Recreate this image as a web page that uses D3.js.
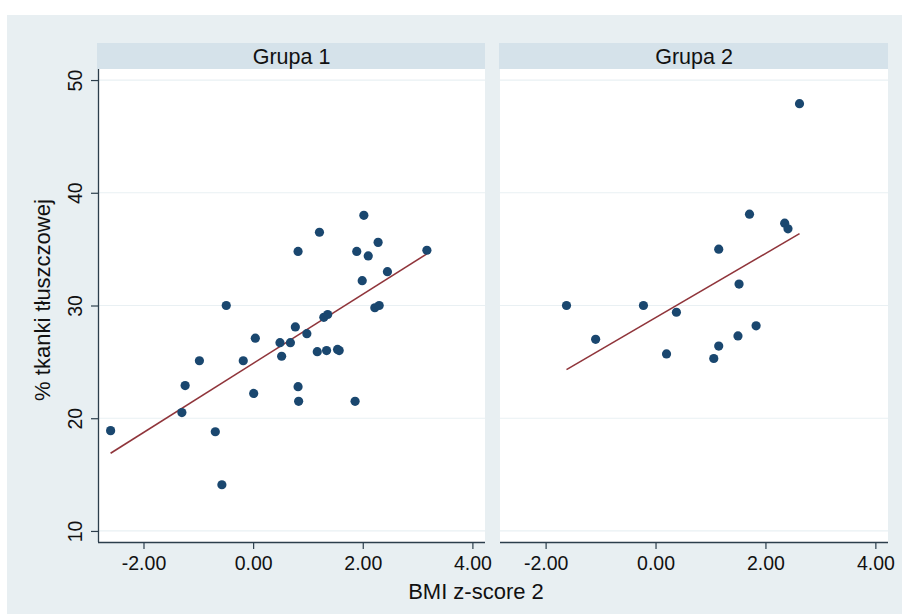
<!DOCTYPE html>
<html>
<head>
<meta charset="utf-8">
<script src="https://cdn.jsdelivr.net/npm/d3@7"></script>
<style>
  html, body { margin: 0; padding: 0; background: #ffffff; }
  svg { display: block; font-family: "Liberation Sans", Arial, sans-serif; }
</style>
</head>
<body>
<svg id="chart" width="902" height="614"></svg>
<script>
// ---- data ----
const panelTitles = ["Grupa 1", "Grupa 2"];
const xTicks = [-2, 0, 2, 4];
const yTicks = [10, 20, 30, 40, 50];
const xLabel = "BMI z-score 2";
const yLabel = "% tkanki tłuszczowej";

const group1X = [-2.60, -1.30, -1.24, -0.98, -0.69, -0.57, -0.49, -0.18, 0.01, 0.04,
                 0.49, 0.52, 0.68, 0.77, 0.82, 0.82, 0.83, 0.98, 1.17, 1.21,
                 1.29, 1.36, 1.34, 1.54, 1.57, 1.86, 1.89, 1.99, 2.02, 2.10,
                 2.22, 2.28, 2.30, 2.45, 3.17];
const group1Y = [18.9, 20.5, 22.9, 25.1, 18.8, 14.1, 30.0, 25.1, 22.2, 27.1,
                 26.7, 25.5, 26.7, 28.1, 34.8, 22.8, 21.5, 27.5, 25.9, 36.5,
                 28.95, 29.2, 26.0, 26.1, 26.0, 21.5, 34.8, 32.2, 38.0, 34.4,
                 29.8, 35.6, 30.0, 33.0, 34.9];

const group2X = [-1.62, -1.09, -0.22, 0.20, 0.38, 1.06, 1.15, 1.15, 1.50, 1.52,
                 1.71, 1.83, 2.35, 2.41, 2.62];
const group2Y = [30.0, 27.0, 30.0, 25.7, 29.4, 25.3, 35.0, 26.4, 27.3, 31.9,
                 38.1, 28.2, 37.3, 36.8, 47.9];

// ---- layout ----
const svg = d3.select("#chart");
const W = 902, H = 614;
const plotTop = 69, plotBottom = 542;
const panels = [
  { title: panelTitles[0], x0: 98, x1: 485, xs: group1X, ys: group1Y },
  { title: panelTitles[1], x0: 500, x1: 888, xs: group2X, ys: group2Y }
];
const xDomain = [-2.83, 4.23];
const y = d3.scaleLinear().domain([9.02, 50.98]).range([plotBottom, plotTop]);

const tickFont = 19.5;
const titleFont = 22;

const colors = {
  bg: "#e8eff2",
  strip: "#d5e2ea",
  grid: "#e9f0f3",
  axis: "#2c3e4c",
  dot: "#1a476f",
  fit: "#90353b",
  text: "#111111"
};

svg.append("rect").attr("x", 7).attr("y", 15).attr("width", W - 7).attr("height", H - 15)
  .attr("fill", colors.bg);

function ols(xs, ys) {
  const mx = d3.mean(xs), my = d3.mean(ys);
  let sxy = 0, sxx = 0;
  xs.forEach((v, i) => { sxy += (v - mx) * (ys[i] - my); sxx += (v - mx) * (v - mx); });
  const b = sxy / sxx;
  return { a: my - b * mx, b };
}

panels.forEach((p, pi) => {
  const x = d3.scaleLinear().domain(xDomain).range([p.x0, p.x1]);
  const g = svg.append("g");

  // strip
  g.append("rect").attr("x", p.x0 - 1).attr("y", 43).attr("width", p.x1 - p.x0 + 1).attr("height", plotTop - 43)
    .attr("fill", colors.strip);
  g.append("text").attr("x", (p.x0 + p.x1) / 2).attr("y", 63.5)
    .attr("text-anchor", "middle").attr("font-size", 21.5).attr("fill", colors.text)
    .text(p.title);

  // plot area
  g.append("rect").attr("x", p.x0).attr("y", plotTop).attr("width", p.x1 - p.x0).attr("height", plotBottom - plotTop)
    .attr("fill", "#ffffff");

  // gridlines
  g.selectAll("line.grid").data(yTicks).enter().append("line")
    .attr("x1", p.x0).attr("x2", p.x1)
    .attr("y1", d => y(d)).attr("y2", d => y(d))
    .attr("stroke", colors.grid).attr("stroke-width", 1.2);

  // x axis
  const xAxis = d3.axisBottom(x).tickValues(xTicks).tickSize(7).tickPadding(7)
    .tickFormat(d3.format(".2f"));
  const ax = g.append("g").attr("transform", `translate(0,${plotBottom})`).call(xAxis);
  ax.select(".domain").attr("stroke", colors.axis).attr("stroke-width", 1.3)
    .attr("d", `M${p.x0},0.5H${p.x1}`);
  ax.selectAll(".tick line").attr("stroke", colors.axis).attr("stroke-width", 1.2);
  ax.selectAll(".tick text").attr("font-size", tickFont).attr("fill", colors.text)
    .attr("font-family", "Liberation Sans, Arial, sans-serif")
    .text(d => d3.format(".2f")(d).replace("−", "-"));

  // y axis (left panel only)
  if (pi === 0) {
    const yAxis = d3.axisLeft(y).tickValues(yTicks).tickSize(7).tickPadding(4);
    const ay = g.append("g").attr("transform", `translate(${p.x0},0)`).call(yAxis);
    ay.select(".domain").attr("stroke", colors.axis).attr("stroke-width", 1.3)
      .attr("d", `M0.5,${plotTop}V${plotBottom}`);
    ay.selectAll(".tick line").attr("stroke", colors.axis).attr("stroke-width", 1.2);
    ay.selectAll(".tick text")
      .attr("font-size", tickFont).attr("fill", colors.text)
      .attr("font-family", "Liberation Sans, Arial, sans-serif")
      .attr("text-anchor", "middle")
      .attr("x", null).attr("dy", null)
      .attr("transform", "translate(-23.5,0) rotate(-90)")
      .attr("dominant-baseline", "central");
  }

  // fit line
  const f = ols(p.xs, p.ys);
  const xmin = d3.min(p.xs), xmax = d3.max(p.xs);
  g.append("line")
    .attr("x1", x(xmin)).attr("y1", y(f.a + f.b * xmin))
    .attr("x2", x(xmax)).attr("y2", y(f.a + f.b * xmax))
    .attr("stroke", colors.fit).attr("stroke-width", 1.6);

  // points
  g.selectAll("circle.pt").data(p.xs.map((v, i) => [v, p.ys[i]])).enter().append("circle")
    .attr("cx", d => x(d[0])).attr("cy", d => y(d[1])).attr("r", 4.6)
    .attr("fill", colors.dot);
});

// axis titles
svg.append("text").attr("x", 476).attr("y", 599).attr("text-anchor", "middle")
  .attr("font-size", titleFont).attr("fill", colors.text).text(xLabel);
svg.append("text").attr("transform", "translate(50,300) rotate(-90)")
  .attr("text-anchor", "middle").attr("font-size", titleFont).attr("fill", colors.text).text(yLabel);
</script>
</body>
</html>
